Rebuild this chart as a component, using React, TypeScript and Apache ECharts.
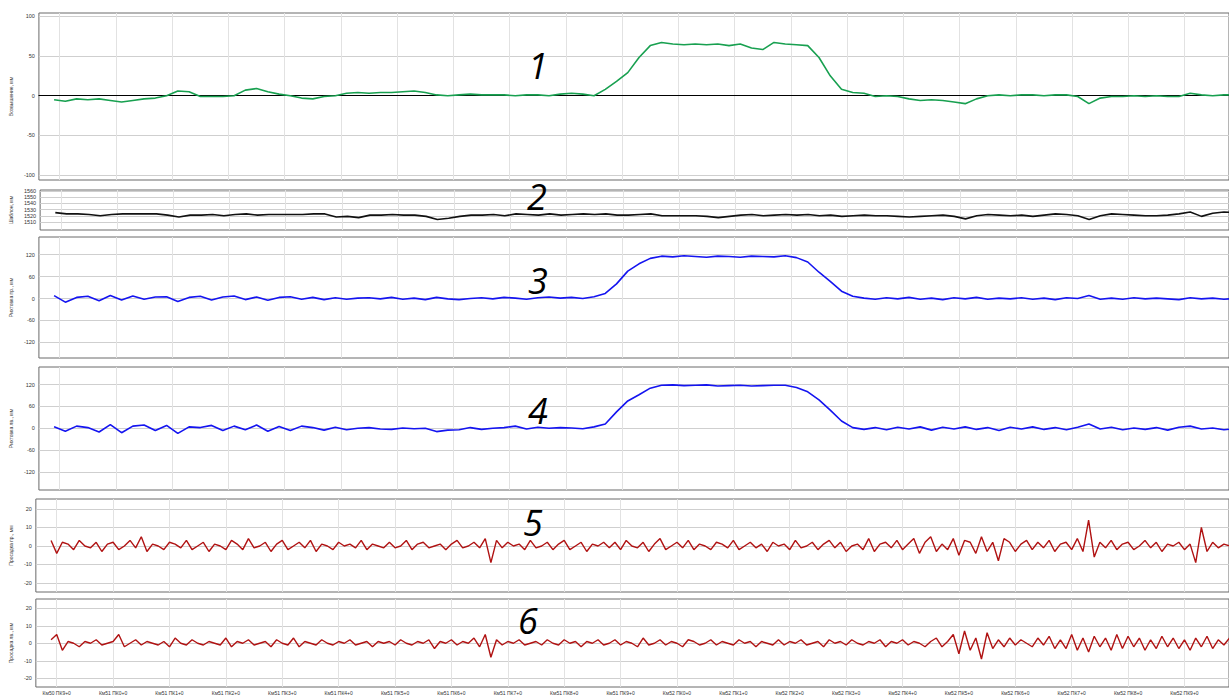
import React, { useEffect, useRef } from "react";
import * as echarts from "echarts";

// x positions in metres; coarse series sampled every 20 m, fine series every 10 m from -10 m
const SAMPLE_START = -10;
const STEP_COARSE = 20;
const STEP_FINE = 10;

const TICK_LABELS = [
  "Км50 ПК9+0",
  "Км51 ПК0+0", "Км51 ПК1+0", "Км51 ПК2+0", "Км51 ПК3+0", "Км51 ПК4+0",
  "Км51 ПК5+0", "Км51 ПК6+0", "Км51 ПК7+0", "Км51 ПК8+0", "Км51 ПК9+0",
  "Км52 ПК0+0", "Км52 ПК1+0", "Км52 ПК2+0", "Км52 ПК3+0", "Км52 ПК4+0",
  "Км52 ПК5+0", "Км52 ПК6+0", "Км52 ПК7+0", "Км52 ПК8+0", "Км52 ПК9+0",
];
const TICK_POSITIONS = [0, 100, 200, 300, 400, 500, 600, 700, 800, 900, 1000,
  1100, 1200, 1300, 1400, 1500, 1600, 1700, 1800, 1900, 2000];

const PANEL_NAMES = [
  "Возвышение, мм",
  "Шаблон, мм",
  "Рихтовка пр., мм",
  "Рихтовка лв., мм",
  "Просадка пр., мм",
  "Просадка лв., мм",
];
const PANEL_NUMBERS = ["1", "2", "3", "4", "5", "6"];

const Y_TICKS_1 = [-100, -50, 0, 50, 100];
const Y_TICKS_2 = [1510, 1520, 1530, 1540, 1550, 1560];
const Y_TICKS_3 = [-120, -60, 0, 60, 120];
const Y_TICKS_4 = [-120, -60, 0, 60, 120];
const Y_TICKS_5 = [-20, -10, 0, 10, 20];
const Y_TICKS_6 = [-20, -10, 0, 10, 20];

// 1: superelevation (20 m step)
const elevation = [
  -5, -7, -4, -5, -4, -6, -8, -6, -4, -3,
  0, 6, 5, -1, -1, -1, 0, 7, 9, 5,
  2, 0, -3, -4, -1, 0, 3, 4, 3, 4,
  4, 5, 6, 4, 1, 0, 1, 2, 1, 1,
  1, 0, 1, 1, 0, 2, 3, 2, 0, 8,
  18, 29, 48, 63, 67, 65, 64, 65, 64, 65,
  63, 65, 60, 58, 67, 65, 64, 63, 48, 25,
  8, 4, 3, -1, 0, -1, -4, -6, -5, -6,
  -8, -10, -4, 0, 1, 0, 1, 1, 0, 1,
  1, -1, -10, -3, -1, -1, 0, -1, 0, -1,
  -1, 3, 1, 0, 1, 1,
];

// 2: gauge (20 m step)
const gauge = [
  1525, 1523, 1523, 1522, 1520, 1522, 1523, 1523, 1523, 1523,
  1521, 1518, 1521, 1521, 1522, 1520, 1522, 1523, 1521, 1522,
  1522, 1522, 1522, 1523, 1523, 1518, 1519, 1517, 1521, 1521,
  1522, 1521, 1521, 1519, 1514, 1516, 1519, 1521, 1521, 1522,
  1520, 1523, 1522, 1521, 1523, 1521, 1522, 1523, 1522, 1523,
  1521, 1521, 1522, 1523, 1520, 1520, 1520, 1520, 1519, 1517,
  1519, 1521, 1522, 1520, 1521, 1522, 1521, 1522, 1520, 1521,
  1519, 1520, 1521, 1520, 1520, 1519, 1518, 1519, 1520, 1521,
  1519, 1515, 1520, 1522, 1521, 1520, 1521, 1519, 1521, 1523,
  1522, 1520, 1514, 1520, 1523, 1522, 1521, 1520, 1520, 1521,
  1523, 1526, 1519, 1524, 1526, 1525,
];

// 3: alignment right (20 m step)
const alignRight = [
  8, -10, 3, 6, -6, 8, -4, 7, -2, 4,
  5, -8, 3, 6, -4, 4, 7, -3, 4, -5,
  3, 5, -2, 3, -3, 2, -2, 1, 2, -1,
  3, -2, 1, -3, 3, -1, -3, 0, 2, -1,
  3, 1, -2, 2, 4, 1, 3, 0, 5, 14,
  40, 75, 95, 110, 116, 114, 117, 115, 113, 116,
  115, 113, 116, 115, 114, 117, 112, 100, 72, 47,
  20, 6, 1, -2, 2, -1, 3, -2, 1, -3,
  2, -1, 3, -2, 1, -1, 2, -2, 1, -3,
  2, 0, 8, -2, 1, -2, 2, -1, 1, -1,
  -3, 2, -1, 1, -2, 0,
];

// 4: alignment left (20 m step)
const alignLeft = [
  4, -8, 6, 2, -10, 10, -12, 6, 9, -6,
  8, -14, 4, 2, 8, -6, 6, -4, 9, -8,
  5, -6, 6, 2, -5, 3, -4, 0, 2, -2,
  -3, 1, -1, 0, -9, -5, -4, 2, -3, 0,
  2, 6, -2, 3, 0, 2, 1, -1, 4, 12,
  45, 75, 92, 110, 118, 119, 117, 118, 119, 116,
  117, 118, 116, 117, 118, 118, 112, 100, 78, 50,
  20, 2, -3, 2, -4, 3, -2, 4, -5, 3,
  -2, 4, -3, 2, -6, 3, -2, 4, -3, 2,
  -4, 3, 12, -2, 3, -4, 1, -3, 2, -5,
  3, 6, -2, 1, -4, -1,
];

// 5: vertical profile right (10 m step)
const profileRight = [
  3, -4, 2, 1, -2, 3, 0, -1, 2, -3,
  1, 2, -2, 0, 3, -1, 5, -3, 1, 0,
  -2, 2, 1, -1, 3, -2, 0, 2, -3, 1,
  0, -2, 3, 1, -2, 4, -1, 0, 2, -3,
  1, 3, -2, 0, 2, -1, 3, -3, 1, 0,
  -2, 2, 0, 1, -1, 3, -2, 1, 0, -1,
  2, -1, 0, 3, -2, 1, 2, -1, 0, 1,
  -2, 1, 3, -1, 0, 2, -1, 4, -9, 3,
  -1, 2, 0, 1, -2, 3, -1, 0, 2, -2,
  1, 3, -2, 0, 2, -3, 1, 0, 2, -1,
  2, -2, 3, 0, -1, 2, -3, 1, 4, -2,
  0, 2, -1, 3, -2, 1, 0, -2, 2, 1,
  -1, 3, -2, 0, 2, -1, 1, -3, 2, 0,
  1, -2, 3, -1, 0, 2, -2, 1, 3, -1,
  2, -3, 0, 1, -2, 4, -3, 1, 2, -1,
  3, -2, 1, 4, -4, 2, 5, -3, 1, -2,
  4, -5, 3, 2, -4, 5, -3, 2, -8, 4,
  2, -3, 1, 3, -2, 2, -1, 3, -3, 1,
  2, -2, 4, -3, 14, -6, 2, -1, 3, -2,
  1, 2, -2, 0, 3, -1, 2, -3, 1, 0,
  2, -2, 1, -9, 10, -3, 2, -1, 1, 0,
  1,
];

// 6: vertical profile left (10 m step)
const profileLeft = [
  2, 5, -4, 1, 0, -2, 1, 0, 2, -1,
  0, 1, 5, -2, 0, 2, -1, 1, 0, -1,
  1, -2, 3, 0, -1, 2, 0, -1, 1, 0,
  -1, 3, -2, 1, 0, 2, -1, 0, 1, -2,
  2, 0, -1, 3, -2, 1, 0, -1, 2, 0,
  -1, 1, 0, 2, -1, 0, 1, -2, 1, 0,
  1, -1, 2, 0, -1, 1, 0, 2, -3, 1,
  0, 2, -1, 1, 0, 3, -2, 5, -8, 2,
  -1, 1, 0, 2, -1, 0, 1, -1, 2, 0,
  -1, 2, 0, 1, -2, 1, 0, 2, -1, 0,
  2, -1, 1, 0, -2, 3, -1, 0, 2, -1,
  1, 0, -2, 2, 1, -1, 0, 2, -1, 1,
  0, -1, 2, 0, 1, -2, 1, 0, -1, 2,
  -1, 1, 0, 2, -1, 0, 1, -2, 2, 0,
  1, -1, 2, 0, -1, 1, 0, 2, -2, 1,
  0, 2, -1, 1, 0, -2, 1, 3, -2, 1,
  5, -6, 7, -4, 3, -9, 6, -3, 2, -2,
  3, -1, 2, 0, -2, 3, -1, 4, -3, 2,
  -3, 5, -4, 3, -5, 4, -2, 3, -4, 5,
  -3, 4, -2, 3, -4, 2, -3, 4, -2, 3,
  -3, 2, -4, 3, -2, 4, -3, 2, -1, 3,
  0,
];

const toPairs = (vals: number[], step: number) =>
  vals.map((v, i) => [SAMPLE_START + i * step, v]);

const GRIDS = [
  { top: 13, height: 167, min: -106, max: 104 },
  { top: 190, height: 40, min: 1497, max: 1561.6 },
  { top: 237, height: 121, min: -163, max: 168.5 },
  { top: 367, height: 123, min: -169, max: 168 },
  { top: 499, height: 93, min: -24.9, max: 25.4 },
  { top: 599, height: 88, min: -25, max: 25.3 },
];
const Y_TICKS = [Y_TICKS_1, Y_TICKS_2, Y_TICKS_3, Y_TICKS_4, Y_TICKS_5, Y_TICKS_6];
const SERIES = [
  { data: toPairs(elevation, STEP_COARSE), color: "#18a050", width: 1.6 },
  { data: toPairs(gauge, STEP_COARSE), color: "#111111", width: 1.6 },
  { data: toPairs(alignRight, STEP_COARSE), color: "#1414f0", width: 1.6 },
  { data: toPairs(alignLeft, STEP_COARSE), color: "#1414f0", width: 1.6 },
  { data: toPairs(profileRight, STEP_FINE), color: "#b01212", width: 1.4 },
  { data: toPairs(profileLeft, STEP_FINE), color: "#b01212", width: 1.4 },
];
const NUMBER_POS = [
  [538, 65], [537, 196], [538, 280], [538, 410], [533, 522], [528, 620],
];

const X_MIN = -37;
const X_MAX = 2079;
const FONT = "Liberation Sans, Arial, sans-serif";

export default function App() {
  const ref = useRef<HTMLDivElement>(null);
  useEffect(() => {
    if (!ref.current) return;
    const chart = echarts.init(ref.current, null, { renderer: "svg" });
    const option: any = {
      animation: false,
      backgroundColor: "#ffffff",
      textStyle: { fontFamily: FONT },
      grid: GRIDS.map((g) => ({
        left: 29,
        width: 1201,
        top: g.top,
        height: g.height,
        show: true,
        borderColor: "#6a6a6a",
        borderWidth: 1,
        backgroundColor: "transparent",
        containLabel: false,
      })),
      xAxis: GRIDS.map((g, i) => ({
        type: "value",
        gridIndex: i,
        min: X_MIN,
        max: X_MAX,
        axisLine: {
          show: i === 0,
          onZero: true,
          lineStyle: { color: "#000", width: 1 },
        },
        axisTick: { show: false, customValues: TICK_POSITIONS },
        axisLabel: {
          show: i === 5,
          customValues: TICK_POSITIONS,
          formatter: (v: number) => TICK_LABELS[TICK_POSITIONS.indexOf(Math.round(v))] ?? "",
          fontSize: 5,
          color: "#333",
          margin: 3,
          fontFamily: FONT,
        },
        splitLine: { show: true, lineStyle: { color: "#e2e2e2", width: 1 } },
      })),
      yAxis: GRIDS.map((g, i) => ({
        type: "value",
        gridIndex: i,
        min: g.min,
        max: g.max,
        name: PANEL_NAMES[i],
        nameLocation: "middle",
        nameGap: 19,
        nameRotate: 90,
        nameTextStyle: { fontSize: 5, color: "#333", fontFamily: FONT },
        axisLine: { show: false },
        axisTick: { show: false, customValues: Y_TICKS[i] },
        axisLabel: {
          customValues: Y_TICKS[i],
          formatter: (v: number) => String(Math.round(v)),
          fontSize: 5.5,
          color: "#333",
          margin: 4,
          fontFamily: FONT,
        },
        splitLine: { show: true, lineStyle: { color: "#cfcfcf", width: 1 } },
      })),
      series: SERIES.map((s, i) => ({
        type: "line",
        xAxisIndex: i,
        yAxisIndex: i,
        data: s.data,
        showSymbol: false,
        symbol: "none",
        lineStyle: { color: s.color, width: s.width },
        itemStyle: { color: s.color },
        z: 5,
      })),
      graphic: PANEL_NUMBERS.map((n, i) => ({
        type: "text",
        x: NUMBER_POS[i][0],
        y: NUMBER_POS[i][1],
        z: 100,
        style: {
          text: n,
          fontSize: 36,
          fontStyle: "italic",
          fontFamily: "Open Sans, DejaVu Sans, sans-serif",
          fill: "#000",
          textAlign: "center",
          textVerticalAlign: "middle",
        },
      })),
    };
    chart.setOption(option);
    return () => chart.dispose();
  }, []);
  return (
    <div
      ref={ref}
      style={{ position: "fixed", left: 0, top: 0, width: 1229, height: 695 }}
    />
  );
}
